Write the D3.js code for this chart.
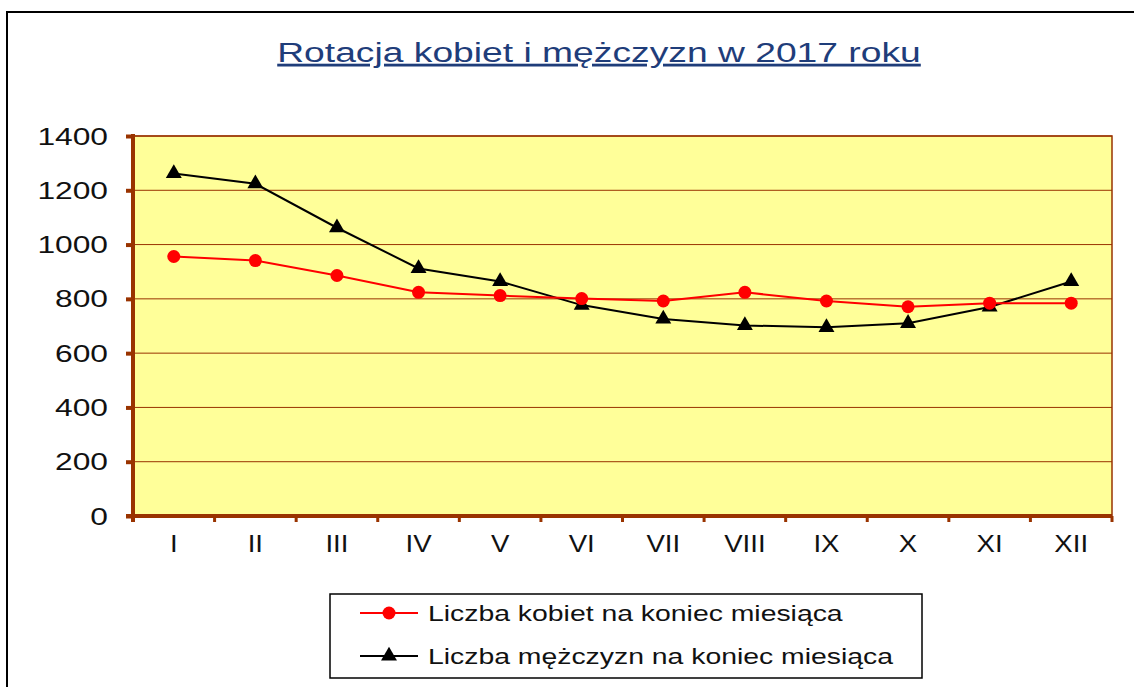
<!DOCTYPE html>
<html>
<head>
<meta charset="utf-8">
<script src="https://cdn.jsdelivr.net/npm/d3@7"></script>
<style>
  body { margin: 0; background: #fff; }
  text { font-family: Arial, "Liberation Sans", sans-serif; }
</style>
</head>
<body>
<div class="main"></div>
<script>
const months = ["I","II","III","IV","V","VI","VII","VIII","IX","X","XI","XII"];
const kobiety = [956, 941, 886, 824, 812, 801, 792, 824, 792, 771, 784, 784];
const mezczyzni = [1262, 1224, 1062, 912, 864, 777, 726, 702, 695, 710, 770, 864];
const yTicks = [0, 200, 400, 600, 800, 1000, 1200, 1400];

const w = 1134;
const h = 687;
const pLeft = 133, pRight = 1112, pTop = 136, pBottom = 516;
const brown = "#993300";

const svg = d3.select(".main")
  .append("svg")
  .attr("width", w)
  .attr("height", h);

// outer frame
svg.append("rect")
  .attr("x", 7).attr("y", 12)
  .attr("width", 1140).attr("height", 700)
  .attr("fill", "#fff")
  .attr("stroke", "#000")
  .attr("stroke-width", 2);

// title (text in the picture is wider than plain Arial, hence the x-scale)
svg.append("text")
  .attr("transform", "translate(599,62) scale(1.33,1)")
  .attr("text-anchor", "middle")
  .attr("font-size", "28px")
  .attr("fill", "#1f3d7a")
  .attr("text-decoration", "underline")
  .text("Rotacja kobiet i mężczyzn w 2017 roku");

const xScale = d3.scaleBand()
  .domain(months)
  .range([pLeft, pRight]);

const yScale = d3.scaleLinear()
  .domain([0, 1400])
  .range([pBottom, pTop]);

// plot background
svg.append("rect")
  .attr("x", pLeft).attr("y", pTop)
  .attr("width", pRight - pLeft).attr("height", pBottom - pTop)
  .attr("fill", "#ffff99")
  .attr("stroke", brown)
  .attr("stroke-width", 1.5);

// gridlines
svg.selectAll(".grid")
  .data(yTicks.filter(d => d > 0))
  .enter()
  .append("line")
  .attr("x1", pLeft).attr("x2", pRight)
  .attr("y1", d => yScale(d)).attr("y2", d => yScale(d))
  .attr("stroke", brown)
  .attr("stroke-width", 1);

// y axis
const yAxis = d3.axisLeft(yScale)
  .tickValues(yTicks)
  .tickFormat(d3.format("d"))
  .tickSize(7);
const gy = svg.append("g")
  .attr("transform", "translate(" + pLeft + ",0)")
  .call(yAxis);
gy.select(".domain").remove();
gy.selectAll(".tick line").attr("stroke", brown).attr("stroke-width", 4);
gy.selectAll(".tick text")
  .attr("x", 0).attr("dy", null)
  .attr("transform", "translate(-25,8) scale(1.38,1)")
  .attr("font-size", "23px")
  .attr("font-family", "Arial, 'Liberation Sans', sans-serif")
  .attr("fill", "#111");
gy.append("line")
  .attr("x1", 0).attr("x2", 0)
  .attr("y1", pTop - 2).attr("y2", pBottom + 6)
  .attr("stroke", brown).attr("stroke-width", 4);

// x axis
const gx = svg.append("g")
  .attr("transform", "translate(0," + pBottom + ")");
gx.append("line")
  .attr("x1", pLeft - 7).attr("x2", pRight)
  .attr("y1", 0).attr("y2", 0)
  .attr("stroke", brown).attr("stroke-width", 4);
gx.selectAll(".xtick")
  .data(months.concat(["end"]))
  .enter()
  .append("line")
  .attr("x1", (d, i) => i < months.length ? xScale(d) : pRight)
  .attr("x2", (d, i) => i < months.length ? xScale(d) : pRight)
  .attr("y1", 0).attr("y2", 6)
  .attr("stroke", brown).attr("stroke-width", 3);
gx.selectAll(".xlab")
  .data(months)
  .enter()
  .append("text")
  .attr("transform", d => "translate(" + (xScale(d) + xScale.bandwidth() / 2) + ",36) scale(1.15,1)")
  .attr("text-anchor", "middle")
  .attr("font-size", "24px")
  .attr("fill", "#111")
  .text(d => d);

const cx = (d, i) => xScale(months[i]) + xScale.bandwidth() / 2;

const line = d3.line()
  .x((d, i) => cx(d, i))
  .y(d => yScale(d));

svg.append("path")
  .datum(mezczyzni)
  .attr("d", line)
  .attr("fill", "none")
  .attr("stroke", "#000")
  .attr("stroke-width", 2);

svg.append("path")
  .datum(kobiety)
  .attr("d", line)
  .attr("fill", "none")
  .attr("stroke", "#ff0000")
  .attr("stroke-width", 2);

const tri = d3.symbol().type(d3.symbolTriangle).size(110);

svg.selectAll(".tri")
  .data(mezczyzni)
  .enter()
  .append("path")
  .attr("d", tri)
  .attr("transform", (d, i) => "translate(" + cx(d, i) + "," + yScale(d) + ")")
  .attr("fill", "#000");

svg.selectAll(".dot")
  .data(kobiety)
  .enter()
  .append("circle")
  .attr("cx", (d, i) => cx(d, i))
  .attr("cy", d => yScale(d))
  .attr("r", 6.5)
  .attr("fill", "#ff0000");

// legend
const lg = svg.append("g");
lg.append("rect")
  .attr("x", 330).attr("y", 594)
  .attr("width", 592).attr("height", 84)
  .attr("fill", "#fff")
  .attr("stroke", "#000")
  .attr("stroke-width", 1.5);

lg.append("line")
  .attr("x1", 360).attr("x2", 418).attr("y1", 613).attr("y2", 613)
  .attr("stroke", "#ff0000").attr("stroke-width", 2);
lg.append("circle")
  .attr("cx", 389).attr("cy", 613).attr("r", 6.5)
  .attr("fill", "#ff0000");
lg.append("text")
  .attr("transform", "translate(428,621) scale(1.29,1)")
  .attr("font-size", "22px")
  .attr("fill", "#111")
  .text("Liczba kobiet na koniec miesiąca");

lg.append("line")
  .attr("x1", 360).attr("x2", 418).attr("y1", 656).attr("y2", 656)
  .attr("stroke", "#000").attr("stroke-width", 2);
lg.append("path")
  .attr("d", tri)
  .attr("transform", "translate(389,656)")
  .attr("fill", "#000");
lg.append("text")
  .attr("transform", "translate(428,664) scale(1.29,1)")
  .attr("font-size", "22px")
  .attr("fill", "#111")
  .text("Liczba mężczyzn na koniec miesiąca");
</script>
</body>
</html>
